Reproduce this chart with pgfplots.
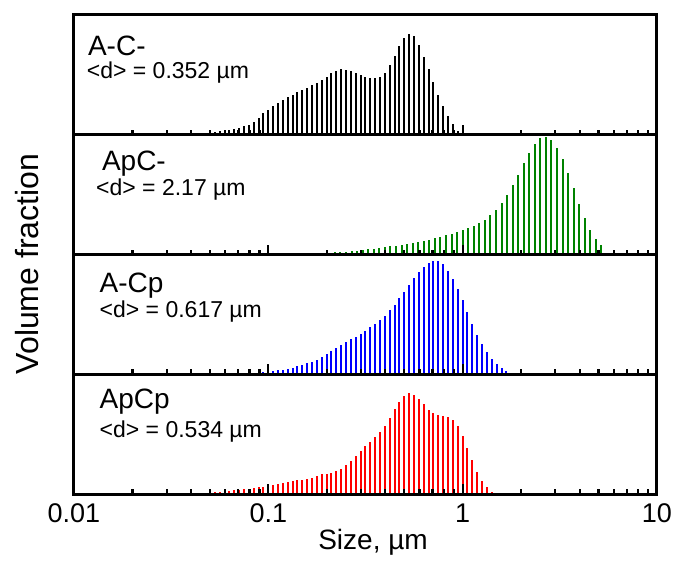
\documentclass[border=0pt]{standalone}
\usepackage{fontspec}
\setmainfont{Liberation Sans}
\usepackage{pgfplots}
\pgfplotsset{compat=1.18}
\usepgfplotslibrary{groupplots}

\definecolor{dgreen}{RGB}{0,130,0}

\begin{document}
\begin{tikzpicture}
\begin{groupplot}[
    group style={group size=1 by 4, vertical sep=0pt},
    width=291.5pt, height=59.875pt, scale only axis,
    xmode=log, xmin=0.01, xmax=10, ymin=0, ymax=120,
    ytick=\empty,
    xtick={0.01,0.1,1,10}, xticklabels={},
    minor xtick={0.02,0.03,0.04,0.05,0.06,0.07,0.08,0.09,0.2,0.3,0.4,0.5,0.6,0.7,0.8,0.9,2,3,4,5,6,7,8,9},
    xtick pos=bottom, tick align=inside,
    major tick length=5pt, minor tick length=2.5pt,
    every tick/.style={black, line width=1.1pt},
    axis line style={line width=1.5pt},
    axis on top,
    /pgf/number format/assume math mode=true,
    clip=false,
]
% A-C-
\nextgroupplot
\addplot[ycomb, black, line width=1pt] coordinates {
(0.04217,1.0) (0.04467,1.3) (0.04732,1.8) (0.05012,2.4) (0.05309,3.0) (0.05623,3.7)
(0.05957,4.3) (0.06310,5.0) (0.06683,6.0) (0.07079,7.0) (0.07499,8.3) (0.07943,10)
(0.08414,13) (0.08913,17) (0.09441,21.5) (0.1000,25) (0.1059,28.6) (0.1122,31.8)
(0.1189,34.8) (0.1259,37.7) (0.1334,39.7) (0.1413,42.5) (0.1496,44.6) (0.1585,47.3)
(0.1679,49.5) (0.1778,52.2) (0.1884,55.1) (0.1995,58) (0.2113,61.4) (0.2239,64)
(0.2371,65.5) (0.2512,65.3) (0.2661,63.7) (0.2818,61.7) (0.2985,59.8) (0.3162,58.3)
(0.3350,57) (0.3548,56.6) (0.3758,58) (0.3981,62) (0.4217,69.7) (0.4467,78.8)
(0.4732,88.5) (0.5012,96.8) (0.5309,101) (0.5623,99) (0.5957,90) (0.6310,78)
(0.6683,65.6) (0.7079,53) (0.7499,40) (0.7943,29) (0.8414,19) (0.8913,11) (0.9441,4)
};
\node[anchor=west, font=\fontsize{14pt}{16pt}\selectfont] at (rel axis cs:0.012,0.74) {A-C-};
\node[anchor=west, font=\fontsize{11.5pt}{14pt}\selectfont] at (rel axis cs:0.010,0.52) {<d> = 0.352 µm};
\coordinate (tl) at (rel axis cs:-0.1269,1.1253);

% ApC-
\nextgroupplot[ylabel={Volume fraction},
    ylabel style={at={(rel axis cs:-0.0806,-0.08)}, anchor=center, font=\fontsize{16pt}{18pt}\selectfont}]
\addplot[ycomb, dgreen, line width=1pt] coordinates {
(0.1218,0.2) (0.1301,0.3) (0.1389,0.4) (0.1484,0.5) (0.1585,0.6) (0.1693,0.8)
(0.1808,1.1) (0.1931,1.4) (0.2062,1.8) (0.2202,2.2) (0.2352,2.7) (0.2512,3.0)
(0.2683,3.3) (0.2865,4.0) (0.3060,4.7) (0.3268,5.3) (0.3490,6.0) (0.3728,6.7)
(0.3981,7.3) (0.4252,8.3) (0.4541,9.0) (0.4850,9.7) (0.5179,10.7) (0.5532,11.7)
(0.5908,12.7) (0.6310,13.7) (0.6739,14.7) (0.7197,16.3) (0.7686,17.7) (0.8209,19.7)
(0.8767,21) (0.9364,22.7) (1.000,24.7) (1.068,26.7) (1.141,29) (1.218,31.7)
(1.301,35) (1.389,39.7) (1.484,45) (1.585,51.7) (1.693,59.7) (1.808,69.3)
(1.931,80) (2.062,91.3) (2.202,101.7) (2.352,110.7) (2.512,117) (2.683,117.7)
(2.865,115) (3.060,107) (3.268,95.7) (3.490,81.3) (3.728,66.7) (3.981,50.7)
(4.252,36.7) (4.541,25) (4.850,16) (5.179,9.3)
};
\node[anchor=west, font=\fontsize{14pt}{16pt}\selectfont] at (rel axis cs:0.036,0.76) {ApC-};
\node[anchor=west, font=\fontsize{11.5pt}{14pt}\selectfont] at (rel axis cs:0.026,0.54) {<d> = 2.17 µm};

% A-Cp
\nextgroupplot
\addplot[ycomb, blue, line width=1pt] coordinates {
(0.07499,0.7) (0.07943,1) (0.08414,1.2) (0.08913,1.5) (0.09441,2) (0.1000,2.3)
(0.1059,3) (0.1122,4) (0.1189,4.7) (0.1259,5.6) (0.1334,6.6) (0.1413,7.8)
(0.1496,9) (0.1585,10.9) (0.1679,12.2) (0.1778,14.4) (0.1884,17) (0.1995,20.5)
(0.2113,23.6) (0.2239,26.3) (0.2371,29.1) (0.2512,32.2) (0.2661,34.9) (0.2818,37.3)
(0.2985,40.2) (0.3162,43.7) (0.3350,47.2) (0.3548,50.5) (0.3758,54.4) (0.3981,58.8)
(0.4217,64.2) (0.4467,69.7) (0.4732,76.2) (0.5012,82.6) (0.5309,89.2) (0.5623,96.2)
(0.5957,102.6) (0.6310,107.6) (0.6683,111.4) (0.7079,113.3) (0.7499,113) (0.7943,110)
(0.8414,103.7) (0.8913,95.4) (0.9441,85.3) (1.000,74) (1.059,62) (1.122,50.4)
(1.189,39.7) (1.259,30.4) (1.334,22) (1.413,15.3) (1.496,10.3) (1.585,6.5) (1.679,3.7)
};
\node[anchor=west, font=\fontsize{14pt}{16pt}\selectfont] at (rel axis cs:0.032,0.74) {A-Cp};
\node[anchor=west, font=\fontsize{11.5pt}{14pt}\selectfont] at (rel axis cs:0.032,0.52) {<d> = 0.617 µm};

% ApCp
\nextgroupplot[xticklabels={0.01,0.1,1,10},
    xticklabel style={font=\fontsize{13.5pt}{16pt}\selectfont, yshift=-1.5pt},
    xlabel={Size, µm},
    xlabel style={at={(rel axis cs:0.513,-0.40)}, anchor=center, font=\fontsize{14pt}{16pt}\selectfont}]
\addplot[ycomb, red, line width=1pt] coordinates {
(0.03162,0.2) (0.03350,0.2) (0.03548,0.2) (0.03758,0.3) (0.03981,0.4) (0.04217,0.5)
(0.04467,0.7) (0.04732,0.9) (0.05012,1.2) (0.05309,1.6) (0.05623,2) (0.05957,2.6)
(0.06310,3.2) (0.06683,3.7) (0.07079,4.3) (0.07499,4.8) (0.07943,5.4) (0.08414,6)
(0.08913,6.6) (0.09441,7.4) (0.1000,8.1) (0.1059,8.9) (0.1122,9.9) (0.1189,10.9)
(0.1259,11.9) (0.1334,12.7) (0.1413,13.6) (0.1496,14.5) (0.1585,15.3) (0.1679,16.5)
(0.1778,18) (0.1884,19.8) (0.1995,20.5) (0.2113,21.5) (0.2239,23) (0.2371,25.5)
(0.2512,29.1) (0.2661,33.4) (0.2818,38) (0.2985,43) (0.3162,47.8) (0.3350,52.2)
(0.3548,57) (0.3758,62.2) (0.3981,68.6) (0.4217,76.5) (0.4467,85.1) (0.4732,92.4)
(0.5012,98.3) (0.5309,100.9) (0.5623,99.6) (0.5957,95.4) (0.6310,90) (0.6683,84.4)
(0.7079,80.9) (0.7499,79.2) (0.7943,78.3) (0.8414,77.6) (0.8913,74) (0.9441,67.8)
(1.000,58.5) (1.059,46.2) (1.122,33.6) (1.189,22) (1.259,13.2) (1.334,6.8) (1.413,2.3)
};
\node[anchor=west, font=\fontsize{14pt}{16pt}\selectfont] at (rel axis cs:0.032,0.77) {ApCp};
\node[anchor=west, font=\fontsize{11.5pt}{14pt}\selectfont] at (rel axis cs:0.032,0.52) {<d> = 0.534 µm};
\coordinate (br) at (rel axis cs:1.0292,-0.6263);
\end{groupplot}
\pgfresetboundingbox
\useasboundingbox (tl) rectangle (br);
\end{tikzpicture}
\end{document}
